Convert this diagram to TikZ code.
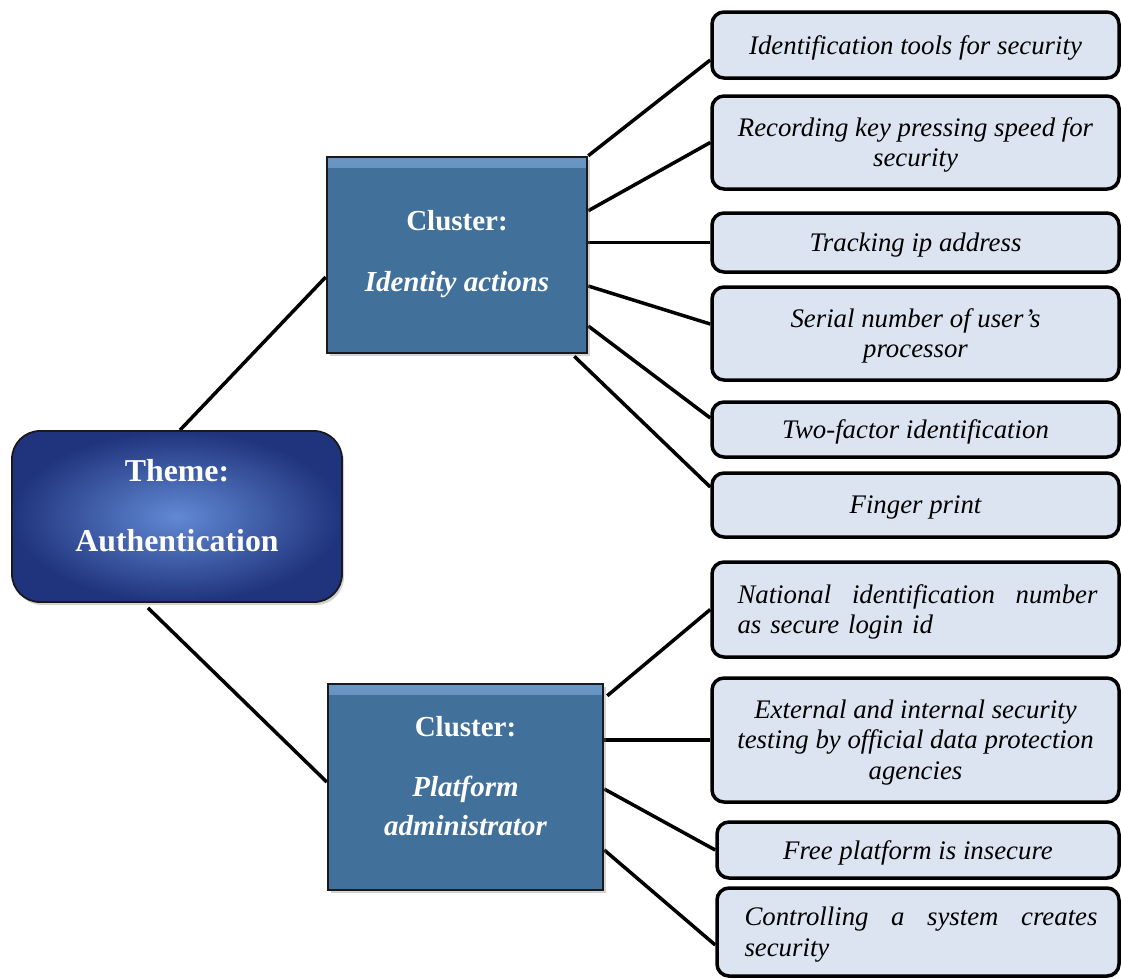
\documentclass[tikz,border=0pt]{standalone}
\usepackage{fontspec}
\setmainfont{Liberation Serif}
\usetikzlibrary{shadows,backgrounds,calc}
\definecolor{leaffill}{RGB}{219,228,240}
\definecolor{clusterfill}{RGB}{65,112,155}
\definecolor{clustertop}{RGB}{105,150,195}
\definecolor{themein}{RGB}{98,137,212}
\definecolor{themeout}{RGB}{32,52,125}
\definecolor{edgedark}{RGB}{25,25,30}
\tikzset{
  leafbox/.style={draw=black, line width=3.5pt, fill=leaffill, rounded corners=12pt,
    inner sep=0pt,
    drop shadow={shadow xshift=1.5pt, shadow yshift=-2pt, opacity=0.25}},
  leaftext/.style={align=center, inner sep=0pt, yshift=-2.5pt,
    font=\fontsize{26.8}{30.5}\selectfont\itshape},
  clusterbox/.style={draw=edgedark, line width=2.5pt, fill=clusterfill, inner sep=0pt,
    drop shadow={shadow xshift=3pt, shadow yshift=-3pt, opacity=0.35},
    path picture={\shade[top color=clustertop, bottom color=clusterfill]
      (path picture bounding box.north west) rectangle ([yshift=-10pt]path picture bounding box.north east);}},
  themebox/.style={draw=edgedark, line width=1.8pt, rounded corners=28pt,
    inner color=themein, outer color=themeout, inner sep=0pt,
    drop shadow={shadow xshift=2pt, shadow yshift=-3pt, opacity=0.35}},
  bigtext/.style={text=white, align=center, inner sep=0pt},
  link/.style={line width=3.5pt, draw=black},
}
\begin{document}
\begin{tikzpicture}[x=1pt, y=-1pt]
\useasboundingbox (0,0) rectangle (1121,978);

% main boxes
\node[themebox, minimum width=330pt, minimum height=171pt] (theme) at (177,516.5) {};
\node[bigtext, font=\bfseries\fontsize{31.8}{37}\selectfont] (themetext) at (177,506)
  {Theme:\\[33pt]Authentication};

\node[clusterbox, minimum width=260pt, minimum height=196pt] (c1) at (457,255) {};
\node[bigtext, font=\bfseries\fontsize{29}{39}\selectfont] (c1text) at (457,254.5)
  {Cluster:\\[22pt]\textit{Identity actions}};

\node[clusterbox, minimum width=275pt, minimum height=206pt] (c2) at (465.5,787) {};
\node[bigtext, font=\bfseries\fontsize{29}{39}\selectfont] (c2text) at (465.5,776)
  {Cluster:\\[21pt]\textit{Platform}\\\textit{administrator}};

% leaves
\node[leafbox, minimum width=407pt, minimum height=66pt,
  label={[leaftext]center:Identification tools for security}] (l1) at (915.5,45) {};
\node[leafbox, minimum width=407pt, minimum height=93pt,
  label={[leaftext]center:Recording key pressing speed for\\security}] (l2) at (915.5,142.5) {};
\node[leafbox, minimum width=407pt, minimum height=59pt,
  label={[leaftext]center:Tracking ip address}] (l3) at (915.5,242.5) {};
\node[leafbox, minimum width=407pt, minimum height=93pt,
  label={[leaftext]center:Serial number of user’s\\processor}] (l4) at (915.5,333.5) {};
\node[leafbox, minimum width=407pt, minimum height=55pt,
  label={[leaftext]center:Two-factor identification}] (l5) at (915.5,429.5) {};
\node[leafbox, minimum width=407pt, minimum height=64pt,
  label={[leaftext]center:Finger print}] (l6) at (915.5,505) {};
\node[leafbox, minimum width=407pt, minimum height=95pt,
  label={[leaftext, align=left, text width=360pt, xshift=2pt]center:National\hfill identification\hfill number\\as secure login id}] (l7) at (915.5,609.5) {};
\node[leafbox, minimum width=407pt, minimum height=124pt,
  label={[leaftext]center:External and internal security\\testing by official data protection\\agencies}] (l8) at (915.5,740) {};
\node[leafbox, minimum width=402pt, minimum height=56pt,
  label={[leaftext]center:Free platform is insecure}] (l9) at (918,850) {};
\node[leafbox, minimum width=402pt, minimum height=88pt,
  label={[leaftext, align=left, text width=353pt, xshift=3pt]center:Controlling\hfill a\hfill system\hfill creates\\security}] (l10) at (918,932) {};

% connectors
\begin{scope}[on background layer]
\draw[link] ([xshift=3pt]theme.north) -- ([yshift=-22pt]c1.west);
\draw[link] ([xshift=-29pt,yshift=-5pt]theme.south) -- ([yshift=5pt]c2.west);

\draw[link] (c1.north east) -- ([yshift=-15pt]l1.west);
\draw[link] ([yshift=-55pt]c1.north east) -- (l2.west);
\draw[link] (l3.west -| c1.east) -- (l3.west);
\draw[link] ([yshift=-31pt]c1.east) -- ([yshift=9.5pt]l4.west);
\draw[link] ([yshift=-71pt]c1.east) -- ([yshift=11.5pt]l5.west);
\draw[link] ([xshift=-14pt,yshift=-2pt]c1.south east) -- ([yshift=18pt]l6.west);

\draw[link] ([xshift=3pt,yshift=-13pt]c2.north east) -- (l7.west);
\draw[link] (l8.west -| c2.east) -- (l8.west);
\draw[link] ([yshift=-2pt]c2.east) -- (l9.west);
\draw[link] ([yshift=-63pt]c2.east) -- ([yshift=-13pt]l10.west);
\end{scope}
\end{tikzpicture}
\end{document}
